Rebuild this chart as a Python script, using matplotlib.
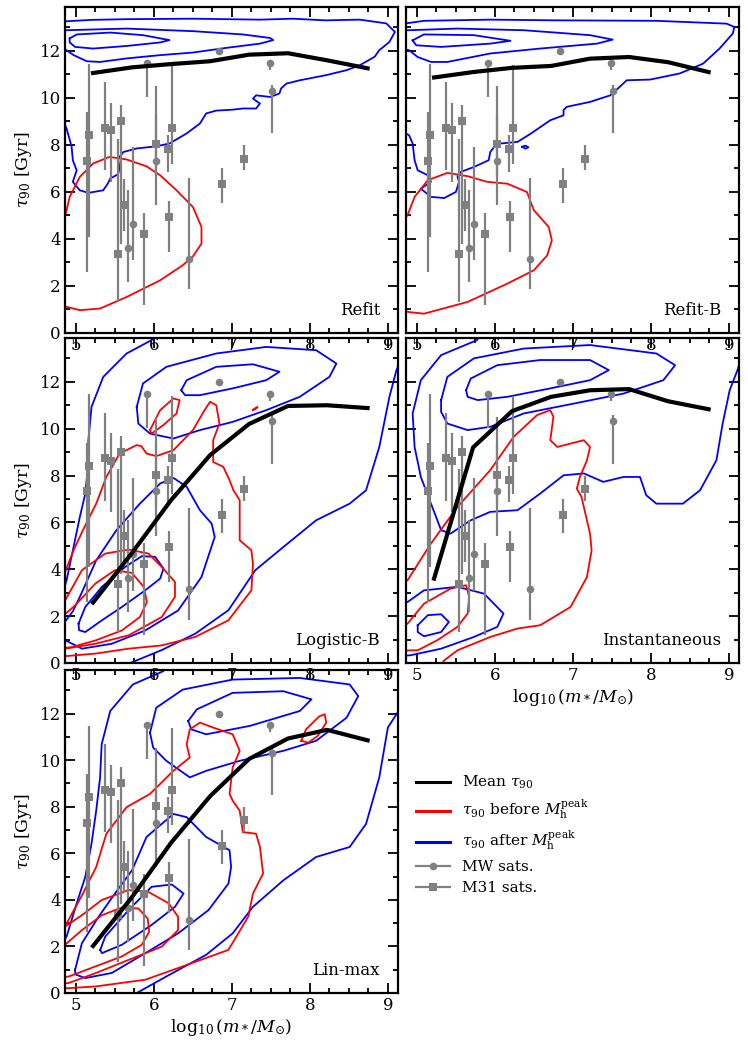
import numpy as np
import matplotlib
matplotlib.use("Agg")
import matplotlib.pyplot as plt
from matplotlib.lines import Line2D
from matplotlib.ticker import MultipleLocator

plt.rcParams['font.family'] = ['DejaVu Serif']
plt.rcParams['mathtext.fontset'] = 'dejavuserif'

# %% mean tau90 per stellar-mass bin
mass_bins = [5.22, 5.72, 6.22, 6.72, 7.22, 7.72, 8.22, 8.74]
refit_mean = [11.06, 11.30, 11.44, 11.56, 11.84, 11.90, 11.60, 11.26]
refitb_mean = [10.87, 11.10, 11.28, 11.36, 11.67, 11.74, 11.52, 11.10]
logb_mean = [2.58, 4.70, 6.95, 8.87, 10.20, 10.97, 11.00, 10.88]
inst_mean = [3.60, 9.20, 10.75, 11.36, 11.64, 11.69, 11.17, 10.83]
lin_mean = [2.02, 4.12, 6.45, 8.45, 10.05, 10.93, 11.30, 10.85]

# %% observed satellites
mw_mass = [5.914, 6.836, 7.485, 7.52, 6.025, 5.734, 5.67, 6.452]
mw_tau = [11.49, 12.0, 11.49, 10.31, 7.32, 4.63, 3.63, 3.14]
mw_lo = [1.45, 0.0, 0.29, 1.80, 1.89, 1.54, 1.46, 1.29]
mw_hi = [0.0, 0.0, 0.0, 0.26, 3.18, 3.28, 2.47, 3.47]

m31_mass = [5.166, 5.137, 5.371, 5.448, 5.572, 5.534, 5.619, 5.875, 6.033, 6.183, 6.238, 6.195, 6.87, 7.156]
m31_tau = [8.41, 7.32, 8.73, 8.63, 9.01, 3.35, 5.43, 4.23, 8.02, 7.82, 8.73, 4.94, 6.33, 7.42]
m31_lo = [4.32, 4.72, 1.81, 2.20, 5.21, 2.03, 1.10, 3.05, 1.30, 0.97, 1.53, 1.49, 0.80, 0.50]
m31_hi = [3.05, 2.08, 1.95, 1.17, 0.68, 4.92, 1.10, 0.87, 1.30, 0.60, 2.66, 0.68, 0.67, 0.57]

# %% density contours traced per model: [log m*, tau90]
refit_blue_1 = [[4.80, 4.88, 4.945, 4.96, 5.01, 4.96, 5.05, 5.16, 5.35, 5.41, 5.44, 5.54, 5.56, 5.54, 5.61, 5.78, 6.03, 6.20, 6.42, 6.59, 6.67, 6.80, 7.01, 7.14, 7.31, 7.36, 7.27, 7.31, 7.49, 7.61, 7.63, 7.70, 7.87, 8.21, 8.47, 8.64, 8.83, 8.89, 9.02, 9.09, 8.98, 8.64, 8.20, 7.78, 7.36, 6.50, 5.65, 5.20, 4.88, 4.80],
                [9.30, 8.70, 7.92, 7.35, 6.92, 6.43, 6.07, 5.96, 6.07, 6.36, 6.57, 6.75, 7.00, 7.42, 7.70, 7.85, 7.94, 8.06, 8.49, 8.91, 9.34, 9.46, 9.50, 9.55, 9.55, 9.76, 9.97, 10.11, 10.04, 10.19, 10.40, 10.61, 10.75, 10.97, 11.18, 11.39, 11.75, 12.03, 12.38, 12.81, 13.17, 13.33, 13.30, 13.37, 13.33, 13.37, 13.35, 13.32, 13.26, 13.25]]
refit_blue_2 = [[4.80, 4.88, 5.65, 6.50, 7.14, 7.49, 7.53, 7.36, 6.93, 6.50, 6.08, 5.65, 5.31, 5.14, 4.97, 4.88, 4.80],
                [12.88, 12.88, 12.95, 12.84, 12.70, 12.55, 12.46, 12.31, 12.13, 11.93, 11.82, 11.68, 11.53, 11.56, 11.82, 12.03, 12.15]]
refit_blue_3 = [[4.92, 5.01, 5.44, 5.86, 6.20, 6.08, 5.65, 5.22, 4.99, 4.92, 4.92],
                [12.53, 12.70, 12.78, 12.67, 12.46, 12.36, 12.21, 12.10, 12.17, 12.36, 12.53]]
refit_red_1 = [[4.80, 4.87, 4.92, 5.05, 5.22, 5.43, 5.65, 5.905, 6.08, 6.29, 6.50, 6.61, 6.61, 6.50, 6.37, 6.08, 5.65, 5.31, 5.05, 4.88, 4.80],
               [4.70, 5.08, 5.79, 6.64, 7.21, 7.49, 7.38, 7.09, 6.71, 6.07, 5.36, 4.51, 3.80, 3.26, 2.88, 2.24, 1.53, 1.04, 0.97, 1.11, 1.20]]

refitb_blue_1 = [[4.80, 4.90, 4.945, 4.97, 5.01, 5.14, 5.18, 5.05, 5.18, 5.35, 5.50, 5.54, 5.52, 5.56, 5.73, 5.92, 5.94, 5.99, 6.07, 6.29, 6.46, 6.71, 6.88, 6.88, 6.92, 7.22, 7.48, 7.60, 7.69, 7.99, 8.37, 8.67, 8.88, 9.05, 9.07, 8.97, 8.07, 6.80, 5.94, 5.09, 4.90, 4.80],
                 [8.60, 8.41, 8.06, 7.35, 6.92, 6.71, 6.43, 6.14, 5.79, 5.74, 6.00, 6.43, 6.64, 6.85, 7.06, 7.35, 7.70, 7.91, 8.06, 8.13, 8.48, 9.05, 9.26, 9.48, 9.62, 9.83, 10.11, 10.47, 10.75, 10.78, 11.04, 11.46, 12.10, 12.74, 13.02, 13.16, 13.28, 13.30, 13.33, 13.28, 13.19, 13.15]]
refitb_blue_2 = [[4.80, 4.90, 5.52, 6.37, 7.22, 7.51, 7.31, 6.58, 5.94, 5.39, 5.18, 5.01, 4.90, 4.80],
                 [12.88, 12.88, 12.95, 12.88, 12.67, 12.48, 12.31, 12.10, 11.89, 11.53, 11.53, 11.74, 12.03, 12.10]]
refitb_blue_3 = [[4.945, 5.09, 5.73, 6.20, 5.94, 5.31, 4.99, 4.945],
                 [12.45, 12.70, 12.67, 12.43, 12.31, 12.17, 12.24, 12.45]]
refitb_blue_4 = [[6.35, 6.39, 6.43, 6.39, 6.35], [7.92, 7.97, 7.90, 7.84, 7.92]]
refitb_red_1 = [[4.80, 4.88, 4.97, 5.14, 5.39, 5.65, 5.90, 6.16, 6.41, 6.50, 6.69, 6.73, 6.67, 6.50, 6.16, 5.65, 5.09, 4.90, 4.80],
                [4.70, 5.01, 5.79, 6.50, 6.81, 6.67, 6.43, 6.35, 6.00, 5.22, 4.51, 3.94, 3.30, 2.67, 2.10, 1.32, 0.82, 0.89, 0.95]]

logb_blue_1 = [[6.00, 5.97, 5.65, 5.35, 5.20, 5.16, 5.15, 5.12, 5.05, 4.97, 4.88, 4.80],
               [14.20, 13.78, 13.21, 12.21, 10.93, 9.51, 8.23, 7.23, 6.23, 4.95, 3.53, 2.60]]
logb_blue_2 = [[5.55, 5.675, 6.10, 6.53, 6.955, 7.30, 7.66, 8.08, 8.51, 8.72, 8.89, 9.02, 9.11, 9.20],
               [-0.20, -0.03, 0.55, 1.25, 2.25, 3.96, 4.95, 6.09, 6.80, 7.37, 9.22, 11.36, 12.50, 13.20]]
logb_blue_3 = [[5.78, 5.86, 6.16, 6.80, 7.44, 8.08, 8.34, 8.25, 7.87, 7.44, 7.01, 6.59, 6.25, 5.95, 5.80, 5.78],
               [10.93, 11.93, 12.64, 13.21, 13.49, 13.35, 12.78, 12.21, 11.36, 10.79, 10.29, 9.94, 9.58, 9.79, 10.22, 10.93]]
logb_blue_4 = [[6.35, 6.42, 6.80, 7.27, 7.61, 7.44, 7.01, 6.59, 6.40, 6.35],
               [11.64, 12.07, 12.64, 12.75, 12.43, 12.07, 11.72, 11.43, 11.43, 11.64]]
logb_blue_5 = [[4.80, 4.863, 5.077, 5.46, 5.89, 6.31, 6.61, 6.78, 6.74, 6.59, 6.42, 6.25, 6.08, 5.82, 5.52, 5.26, 5.05, 4.96, 4.80],
               [1.20, 0.97, 0.61, 0.82, 1.39, 2.24, 3.67, 5.38, 5.95, 6.52, 7.52, 7.90, 7.66, 6.80, 5.67, 4.38, 2.82, 2.20, 1.50]]
logb_blue_6 = [[5.034, 5.12, 5.333, 5.632, 5.845, 6.016, 6.123, 6.08, 5.888, 5.589, 5.333, 5.12, 5.04, 5.034],
               [1.68, 2.39, 3.25, 4.10, 4.56, 4.53, 4.03, 3.60, 3.10, 2.39, 1.82, 1.32, 1.40, 1.68]]
logb_red_1 = [[4.80, 4.87, 4.97, 5.09, 5.26, 5.39, 5.56, 5.78, 5.84, 5.905, 6.03, 6.25, 6.50, 6.65, 6.72, 6.80, 6.84, 6.76, 6.76, 6.89, 6.97, 7.02, 7.10, 7.10, 7.10, 7.25, 7.27, 7.25, 6.955, 6.53, 6.10, 5.675, 5.25, 4.863, 4.80],
              [3.40, 3.96, 4.81, 5.67, 6.80, 7.94, 8.94, 9.30, 9.25, 8.94, 8.83, 9.08, 9.94, 10.79, 11.15, 11.00, 10.22, 9.51, 8.58, 8.37, 7.80, 7.37, 6.95, 5.95, 5.24, 4.81, 4.24, 3.10, 1.82, 1.11, 0.75, 0.61, 0.40, 0.29, 0.27]]
logb_red_2 = [[4.80, 4.863, 5.077, 5.376, 5.675, 5.93, 6.10, 6.27, 6.27, 6.10, 5.675, 5.25, 4.863, 4.80],
              [2.20, 2.68, 3.96, 4.67, 4.84, 4.67, 4.10, 3.46, 2.82, 1.96, 1.18, 0.82, 0.61, 0.60]]
logb_red_3 = [[4.80, 4.99, 5.25, 5.50, 5.72, 5.87, 5.91, 5.82, 5.59, 5.25, 4.95, 4.80],
              [1.90, 2.46, 3.39, 3.96, 3.84, 3.24, 2.60, 1.96, 1.39, 0.96, 0.68, 0.62]]
logb_red_4 = [[5.95, 6.08, 6.25, 6.33, 6.29, 6.12, 5.97, 5.95],
              [9.94, 10.79, 11.29, 11.22, 10.65, 10.15, 9.79, 9.94]]
logb_red_5 = [[7.27, 7.31, 7.33, 7.29, 7.27], [10.80, 10.90, 10.92, 10.82, 10.80]]

inst_blue_1 = [[5.85, 5.77, 5.31, 5.05, 4.945, 4.97, 5.05, 5.18, 5.31, 5.43, 5.69, 5.94, 6.29, 6.58, 6.88, 7.14, 7.39, 7.65, 7.86, 7.94, 8.07, 8.41, 8.63, 8.84, 8.92, 9.01, 9.11, 9.20],
               [14.20, 13.78, 13.14, 12.07, 10.65, 9.22, 7.94, 6.80, 5.67, 5.52, 6.09, 6.45, 6.52, 7.23, 8.01, 8.09, 7.73, 7.94, 7.94, 7.16, 6.80, 6.80, 7.37, 8.65, 10.22, 11.64, 12.50, 13.50]]
inst_blue_2 = [[5.31, 5.39, 5.73, 6.37, 7.22, 8.07, 8.31, 8.16, 7.65, 7.01, 6.37, 5.94, 5.65, 5.39, 5.31, 5.31],
               [11.22, 12.21, 13.00, 13.42, 13.57, 13.21, 12.71, 12.07, 11.50, 11.07, 10.65, 10.08, 9.94, 10.22, 10.72, 11.22]]
inst_blue_3 = [[5.63, 5.69, 6.03, 6.58, 7.22, 7.46, 7.22, 6.71, 6.16, 5.78, 5.65, 5.63],
               [11.64, 12.14, 12.71, 12.93, 12.93, 12.50, 12.07, 11.72, 11.36, 11.22, 11.36, 11.64]]
inst_blue_4 = [[4.80, 4.88, 5.09, 5.52, 5.86, 6.11, 6.03, 5.73, 5.31, 4.92, 4.80],
               [2.75, 2.60, 3.10, 3.25, 2.96, 2.11, 1.54, 1.11, 0.61, 0.33, 0.30]]
inst_blue_5 = [[5.01, 5.14, 5.31, 5.41, 5.31, 5.09, 5.01, 5.01],
               [1.61, 2.04, 2.08, 1.75, 1.32, 1.14, 1.32, 1.61]]
inst_red_1 = [[4.80, 4.88, 5.18, 5.52, 5.94, 6.24, 6.54, 6.71, 6.75, 6.71, 6.80, 7.14, 7.22, 7.18, 7.09, 7.05, 7.11, 7.22, 7.24, 7.18, 6.97, 6.58, 6.29, 5.94, 5.52, 5.35, 5.30],
              [3.40, 3.53, 5.10, 6.66, 8.23, 9.65, 10.58, 10.79, 10.51, 9.51, 9.22, 9.51, 9.22, 8.65, 7.94, 7.44, 7.09, 5.52, 4.81, 3.67, 2.39, 1.61, 1.47, 1.11, 0.54, 0.11, -0.10]]
inst_red_2 = [[4.80, 4.88, 5.09, 5.43, 5.63, 5.67, 5.65, 5.52, 5.26, 5.01, 4.90, 4.80],
              [1.50, 1.68, 2.53, 3.17, 3.32, 2.82, 2.11, 1.54, 0.97, 0.54, 0.54, 0.50]]

lin_blue_1 = [[6.20, 6.12, 5.73, 5.44, 5.33, 5.31, 5.26, 5.20, 5.12, 5.01, 4.88, 4.80],
              [14.20, 13.82, 13.25, 12.11, 10.68, 9.26, 7.83, 6.41, 4.99, 3.85, 2.42, 2.00]]
lin_blue_2 = [[5.70, 5.78, 6.16, 6.67, 7.01, 7.27, 7.66, 8.08, 8.51, 8.72, 8.89, 9.00, 9.11, 9.20],
              [-0.20, 0.00, 0.71, 1.64, 2.56, 3.70, 4.84, 5.84, 6.27, 7.26, 9.26, 11.40, 11.97, 12.50]]
lin_blue_3 = [[5.95, 6.03, 6.37, 7.01, 7.87, 8.51, 8.62, 8.47, 8.08, 7.66, 7.10, 6.67, 6.46, 6.16, 5.99, 5.95],
              [11.18, 12.25, 13.03, 13.46, 13.53, 13.25, 12.75, 11.82, 10.83, 10.40, 9.97, 9.54, 9.26, 9.97, 10.54, 11.18]]
lin_blue_4 = [[6.44, 6.55, 7.01, 7.66, 8.02, 7.87, 7.23, 6.67, 6.48, 6.44],
              [11.68, 12.18, 12.89, 12.96, 12.61, 12.11, 11.47, 11.11, 11.32, 11.68]]
lin_blue_5 = [[4.99, 5.077, 5.29, 5.50, 5.72, 5.905, 6.25, 6.42, 6.67, 6.97, 6.99, 6.956, 6.70, 6.31, 5.89, 5.46, 5.12, 4.99, 4.99],
              [1.00, 2.14, 3.27, 4.27, 5.27, 6.70, 7.69, 7.55, 6.70, 6.13, 5.41, 4.70, 3.56, 2.56, 1.71, 0.86, 0.64, 0.80, 1.00]]
lin_blue_6 = [[5.312, 5.376, 5.675, 5.97, 6.23, 6.38, 6.27, 5.97, 5.589, 5.333, 5.312],
              [1.85, 2.42, 3.56, 4.56, 4.66, 4.27, 3.70, 2.92, 2.07, 1.71, 1.85]]
lin_red_1 = [[4.80, 4.87, 5.09, 5.26, 5.39, 5.65, 5.95, 6.25, 6.46, 6.42, 6.46, 6.59, 6.76, 7.01, 7.10, 7.01, 6.97, 7.01, 7.10, 7.14, 7.31, 7.36, 7.40, 7.27, 7.21, 6.955, 6.31, 5.89, 5.25, 4.87, 4.80],
             [2.60, 2.92, 4.27, 5.41, 6.84, 7.98, 8.55, 9.54, 10.11, 10.68, 11.32, 11.61, 11.40, 11.11, 10.40, 9.69, 8.55, 8.26, 7.83, 6.91, 6.84, 6.27, 5.13, 4.27, 3.28, 1.85, 1.07, 0.57, 0.28, 0.20, 0.20]]
lin_red_2 = [[4.80, 4.86, 5.077, 5.33, 5.675, 5.93, 6.19, 6.31, 6.31, 6.10, 5.675, 5.25, 4.91, 4.80],
             [2.60, 2.85, 3.34, 3.99, 4.42, 4.34, 3.85, 3.27, 2.70, 1.99, 1.42, 0.85, 0.43, 0.38]]
lin_red_3 = [[4.80, 4.86, 5.077, 5.333, 5.589, 5.80, 5.92, 5.94, 5.845, 5.589, 5.25, 4.91, 4.80],
             [1.90, 2.07, 2.70, 3.34, 3.67, 3.63, 3.20, 2.63, 2.07, 1.57, 1.14, 0.71, 0.65]]
lin_red_4 = [[7.89, 7.95, 8.12, 8.19, 8.21, 8.10, 7.98, 7.89],
             [10.83, 11.32, 11.88, 11.97, 11.61, 11.04, 10.75, 10.83]]

panels = [
    ("Refit", refit_mean, [refit_blue_1, refit_blue_2, refit_blue_3], [refit_red_1]),
    ("Refit-B", refitb_mean, [refitb_blue_1, refitb_blue_2, refitb_blue_3, refitb_blue_4], [refitb_red_1]),
    ("Logistic-B", logb_mean, [logb_blue_1, logb_blue_2, logb_blue_3, logb_blue_4, logb_blue_5, logb_blue_6],
     [logb_red_1, logb_red_2, logb_red_3, logb_red_4, logb_red_5]),
    ("Instantaneous", inst_mean, [inst_blue_1, inst_blue_2, inst_blue_3, inst_blue_4, inst_blue_5], [inst_red_1, inst_red_2]),
    ("Lin-max", lin_mean, [lin_blue_1, lin_blue_2, lin_blue_3, lin_blue_4, lin_blue_5, lin_blue_6],
     [lin_red_1, lin_red_2, lin_red_3, lin_red_4]),
]

# axes boxes (left, bottom, width, height) in figure fraction
boxes = [
    [0.0869, 0.6838, 0.4452, 0.3096],
    [0.5428, 0.6838, 0.4452, 0.3096],
    [0.0869, 0.3704, 0.4452, 0.3086],
    [0.5428, 0.3704, 0.4452, 0.3086],
    [0.0869, 0.0570, 0.4452, 0.3067],
]

fig = plt.figure(figsize=(7.48, 10.53), dpi=100)

# build bottom rows first so the upper panels' tick labels sit on top
for i in [4, 3, 2, 1, 0]:
    name, mean, blues, reds = panels[i]
    ax = fig.add_axes(boxes[i])
    for c in blues:
        ax.plot(c[0], c[1], color='blue', lw=1.3, zorder=2, solid_joinstyle='round')
    for c in reds:
        ax.plot(c[0], c[1], color='red', lw=1.3, zorder=2, solid_joinstyle='round')
    ax.errorbar(mw_mass, mw_tau, yerr=[mw_lo, mw_hi], fmt='o', color='gray',
                ms=5.5, mew=0, elinewidth=1.6, capsize=0, zorder=3)
    ax.errorbar(m31_mass, m31_tau, yerr=[m31_lo, m31_hi], fmt='s', color='gray',
                ms=5.5, mew=0, elinewidth=1.6, capsize=0, zorder=3)
    ax.plot(mass_bins, mean, color='black', lw=3, zorder=4)

    ax.set_xlim(4.86, 9.13)
    ax.set_ylim(0, 13.87)
    ax.xaxis.set_major_locator(MultipleLocator(1))
    ax.xaxis.set_minor_locator(MultipleLocator(0.25))
    ax.yaxis.set_major_locator(MultipleLocator(2))
    ax.yaxis.set_minor_locator(MultipleLocator(1))
    ax.tick_params(which='both', direction='in', top=True, right=True, width=1.3, labelsize=12, pad=3)
    ax.tick_params(which='major', length=7)
    ax.tick_params(which='minor', length=3.5)
    for s in ax.spines.values():
        s.set_linewidth(1.6)
    ax.text(0.946, 0.055, name, transform=ax.transAxes, ha='right', va='baseline', fontsize=12)
    if i % 2 == 0:
        ax.set_ylabel(r'$\tau_{90}$ [Gyr]', fontsize=12.5)
    else:
        ax.tick_params(labelleft=False)
    if i >= 3:
        ax.set_xlabel(r'$\log_{10}(m_*/M_{\odot})$', fontsize=12.5, labelpad=2)

handles = [
    Line2D([], [], color='black', lw=2.2),
    Line2D([], [], color='red', lw=2.2),
    Line2D([], [], color='blue', lw=2.2),
    Line2D([], [], color='gray', lw=1.6, marker='o', ms=5.5, mew=0),
    Line2D([], [], color='gray', lw=1.6, marker='s', ms=5.5, mew=0),
]
labels = [r'Mean $\tau_{90}$',
          r'$\tau_{90}$ before $M_{\rm h}^{\rm peak}$',
          r'$\tau_{90}$ after $M_{\rm h}^{\rm peak}$',
          'MW sats.', 'M31 sats.']
fig.legend(handles, labels, loc='upper left', bbox_to_anchor=(0.538, 0.278),
           frameon=False, fontsize=11, labelspacing=0.45, handlelength=2.2)

fig.savefig('out.png', dpi=100)
